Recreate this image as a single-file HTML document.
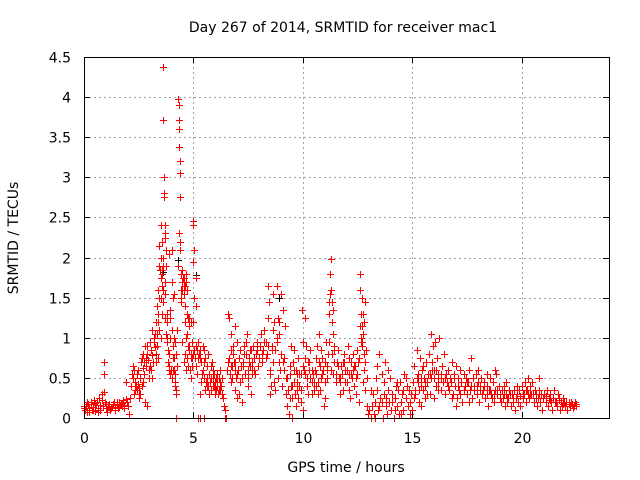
<!DOCTYPE html>
<html><head><meta charset="utf-8">
<style>
html,body{margin:0;padding:0;background:#fff;}
svg{display:block;font-family:"DejaVu Sans","Liberation Sans",sans-serif;}
</style></head>
<body>
<svg id="chart" width="640" height="480" viewBox="0 0 640 480">
<rect x="0" y="0" width="640" height="480" fill="#fff"/>
<text x="343" y="32" font-size="14" text-anchor="middle" fill="#000">Day 267 of 2014, SRMTID for receiver mac1</text>
<text x="346" y="472" font-size="14" text-anchor="middle" fill="#000">GPS time / hours</text>
<text x="18" y="238" font-size="14" text-anchor="middle" fill="#000" transform="rotate(-90 18 238)">SRMTID / TECUs</text>
<g id="grid"></g><g id="marks"></g><g id="axes"></g>
</svg>
<script>
const xTicks=[0,5,10,15,20];
const yTicks=[0,0.5,1,1.5,2,2.5,3,3.5,4,4.5];
const yTickLabels=["0","0.5","1","1.5","2","2.5","3","3.5","4","4.5"];
const hoursA=[0.0,0.05,0.1,0.15,0.2,0.25,0.3,0.35,0.4,0.45,0.5,0.55,0.6,0.65,0.7,0.75,0.8,0.85,0.9,0.9,0.95,1.0,1.05,1.1,1.15,1.2,1.3,1.35,1.4,1.5,1.55,1.6,1.7,1.75,1.8,1.85,1.9,1.95,2.0,2.05,0.02,0.12,0.22,0.32,0.42,0.52,0.62,0.72,0.82,0.92,1.02,1.12,1.22,1.32,1.42,1.52,1.62,1.72,1.82,1.92];
const tecuA=[0.12,0.1,0.15,0.08,0.18,0.12,0.2,0.1,0.14,0.22,0.09,0.16,0.2,0.12,0.25,0.1,0.3,0.15,0.7,0.55,0.2,0.12,0.08,0.15,0.18,0.1,0.14,0.2,0.12,0.16,0.13,0.2,0.18,0.15,0.22,0.12,0.45,0.2,0.15,0.05,0.15,0.2,0.07,0.17,0.1,0.19,0.08,0.16,0.22,0.33,0.18,0.14,0.12,0.17,0.1,0.2,0.14,0.19,0.16,0.24];
const hoursB=[2.1,2.15,2.2,2.25,2.3,2.35,2.4,2.45,2.5,2.55,2.6,2.65,2.7,2.75,2.8,2.85,2.9,2.95,3.0,3.05,3.1,3.15,3.2,3.25,3.3,2.3,2.5,2.7,2.9,3.1];
const tecuB=[0.25,0.4,0.55,0.65,0.3,0.45,0.35,0.6,0.3,0.5,0.7,0.4,0.8,0.55,0.2,0.75,0.9,0.6,0.65,0.85,1.1,0.7,0.95,1.05,0.8,0.6,0.25,0.45,0.15,0.5];
const hoursC=[3.3,3.35,3.35,3.4,3.4,3.45,3.45,3.5,3.5,3.5,3.55,3.55,3.55,3.6,3.6,3.6,3.6,3.65,3.65,3.65,3.7,3.7,3.7,3.75,3.75,3.75,3.8,3.8,3.8,3.4,3.5,3.6,3.7,3.45,3.55];
const tecuC=[1.2,0.9,1.4,1.6,1.3,1.9,1.1,2.4,1.75,1.5,1.8,2.2,1.3,4.37,3.72,2.0,1.6,3.0,2.8,2.75,2.4,2.25,1.7,2.1,1.9,1.05,1.0,1.3,0.95,0.75,1.0,1.45,1.25,2.15,1.85];
const hoursD=[3.85,3.9,3.9,3.95,3.95,4.0,4.0,4.05,4.05,4.1,4.1,4.15,4.15,4.2,4.2,4.25,4.25,3.9,4.0,4.1,4.2,3.95,4.05,4.15,4.2];
const tecuD=[0.7,2.05,0.6,1.35,0.55,2.1,1.1,0.9,0.6,1.55,1.0,0.55,0.45,0.8,0.35,0.65,1.1,0.8,1.7,0.75,0.0,1.0,1.5,0.4,0.3];
const hoursE=[4.3,4.32,4.34,4.35,4.36,4.37,4.38,4.38,4.4,4.4,4.45,4.45,4.5,4.5,4.55,4.55,4.6,4.6,4.65,4.65,4.7,4.7,4.75,4.75,4.8,4.8,4.3,4.35,4.45,4.5,4.55,4.6,4.65,4.7,4.75];
const tecuE=[3.98,3.9,3.72,3.6,3.38,3.2,3.05,2.75,2.2,2.1,1.8,1.45,1.85,1.6,1.65,0.7,1.2,0.8,1.0,0.6,1.3,0.75,1.25,0.9,1.15,0.85,1.9,2.3,1.5,0.95,1.75,1.4,1.7,1.05,0.65];
const hoursF=[4.85,4.9,4.9,4.95,5.0,5.0,5.0,5.05,5.05,5.1,5.1,5.15,5.15,5.2,5.2,4.9,5.0,5.1,5.1,4.95];
const tecuF=[0.6,1.2,0.5,0.75,2.45,2.4,1.95,2.1,1.5,1.4,0.9,0.85,0.55,0.95,0.0,0.8,1.2,1.75,0.65,0.95];
const hoursG=[5.25,5.3,5.3,5.35,5.4,5.45,5.5,5.5,5.55,5.6,5.65,5.7,5.75,5.8,5.85,5.9,5.95,6.0,6.05,6.1,6.15,6.2,6.25,6.3,6.35,6.4,6.45,6.5,5.3,5.5,5.7,5.9,6.1,6.3,6.45,5.35,5.6,5.8,6.0,6.2];
const tecuG=[0.8,0.3,0.0,0.7,0.55,0.9,0.0,0.5,0.35,0.65,0.8,0.55,0.45,0.5,0.7,0.4,0.55,0.3,0.5,0.45,0.35,0.6,0.4,0.3,0.25,0.15,0.0,0.0,0.75,0.85,0.3,0.6,0.55,0.5,0.1,0.45,0.4,0.65,0.35,0.45];
const hoursH=[6.55,6.6,6.6,6.65,6.7,6.7,6.75,6.8,6.85,6.9,6.95,7.0,7.0,7.05,7.1,7.15,7.2,7.25,7.3,7.35,7.4,7.45,7.5,7.55,7.6,7.65,7.7,7.75,7.8,7.85,7.9,7.95,8.0,6.7,6.9,7.1,7.3,7.5,7.7,7.9];
const tecuH=[0.6,0.7,1.3,1.25,0.45,0.85,0.65,0.9,0.7,0.35,0.5,0.95,0.25,0.6,0.75,0.45,0.2,0.65,0.8,0.55,0.95,1.05,0.5,0.7,0.85,0.3,0.6,0.75,0.55,0.8,0.95,0.65,0.75,1.05,1.15,0.3,0.9,0.4,0.55,0.85];
const hoursI=[8.05,8.1,8.15,8.2,8.25,8.3,8.35,8.4,8.45,8.5,8.55,8.6,8.65,8.7,8.75,8.8,8.85,8.9,8.95,9.0,9.05,9.1,9.15,9.2,8.4,8.5,8.6,8.7,8.8,8.9,9.0,9.1,8.65,8.85,8.3];
const tecuI=[0.9,1.05,0.7,0.85,1.1,0.95,0.8,1.65,1.45,0.3,0.4,0.85,1.55,1.2,0.35,1.65,1.25,1.05,0.6,1.55,0.4,1.35,0.75,1.15,1.25,0.6,0.9,0.45,1.0,1.2,0.8,0.7,1.1,0.5,0.75];
const hoursJ=[9.25,9.3,9.35,9.4,9.45,9.5,9.55,9.6,9.65,9.7,9.75,9.8,9.85,9.9,9.95,10.0,10.05,10.1,10.15,10.2,10.25,10.3,10.35,10.4,10.45,10.5,9.3,9.4,9.5,9.6,9.7,9.8,9.9,10.0,10.1,10.2,10.3,10.4,9.45,9.75];
const tecuJ=[0.3,0.15,0.05,0.65,0.4,0.25,0.7,0.85,0.3,0.15,0.55,0.75,0.4,0.2,1.35,0.1,0.6,1.25,0.9,0.5,0.3,0.7,0.85,0.45,0.55,0.35,0.5,0.25,0.0,0.45,0.6,0.25,0.55,0.95,0.75,0.4,0.6,0.3,0.9,0.35];
const hoursK=[10.55,10.6,10.65,10.7,10.75,10.8,10.85,10.9,10.95,11.0,11.05,11.1,11.15,11.2,11.2,11.25,11.25,11.3,11.3,11.3,11.35,11.35,11.4,11.4,11.45,11.5,10.6,10.7,10.8,10.9,11.0,11.1,11.2,11.4,11.45];
const tecuK=[0.6,0.75,0.9,0.45,1.05,0.35,0.85,0.55,0.15,0.7,0.95,0.5,0.8,1.45,1.3,1.8,1.55,1.98,1.6,0.6,1.45,0.8,1.35,1.05,0.7,0.45,0.4,0.3,0.65,0.75,0.25,0.6,0.95,0.55,0.85];
const hoursL=[11.55,11.6,11.65,11.7,11.75,11.8,11.85,11.9,11.95,12.0,12.05,12.1,12.15,12.2,12.25,12.3,12.35,12.4,12.45,12.5,12.55,12.6,12.6,12.65,12.65,12.7,12.7,12.75,12.75,12.8,12.8,12.85,12.85,12.9,12.95,11.7,11.9,12.1,12.3,12.5,12.7,12.85,12.55,12.65,12.75];
const tecuL=[0.7,0.85,0.5,0.3,0.65,0.55,0.35,0.8,0.45,0.6,0.9,0.55,0.25,0.7,0.5,0.8,0.4,0.65,0.3,0.55,0.75,1.8,1.6,1.3,1.0,1.15,0.9,1.05,0.45,1.2,0.6,1.45,0.35,0.85,0.15,0.45,0.7,0.35,0.6,0.85,1.5,0.7,0.2,0.95,1.3];
const hoursM=[13.0,13.05,13.1,13.15,13.2,13.25,13.3,13.35,13.4,13.45,13.5,13.55,13.6,13.65,13.7,13.75,13.8,13.85,13.9,13.95,14.0,14.05,14.1,14.15,14.2,14.25,14.3,14.35,14.4,14.45,14.5,14.55,14.6,14.65,14.7,14.75,14.8,14.85,14.9,14.95,13.1,13.3,13.5,13.7,13.9,14.1,14.3,14.5,14.7,14.9,13.4,13.8,14.2,14.6,13.6];
const tecuM=[0.05,0.1,0.0,0.15,0.3,0.05,0.2,0.5,0.35,0.1,0.8,0.25,0.55,0.0,0.3,0.7,0.15,0.05,0.35,0.2,0.5,0.1,0.3,0.0,0.25,0.4,0.15,0.35,0.05,0.45,0.2,0.3,0.1,0.55,0.25,0.4,0.15,0.35,0.05,0.3,0.35,0.0,0.15,0.45,0.6,0.2,0.45,0.05,0.5,0.2,0.65,0.25,0.1,0.35,0.2];
const hoursN=[15.0,15.05,15.1,15.15,15.2,15.25,15.3,15.35,15.4,15.45,15.5,15.55,15.6,15.65,15.7,15.75,15.8,15.85,15.9,15.95,16.0,16.05,16.1,16.15,16.2,16.25,16.3,16.35,16.4,16.45,16.5,16.55,15.1,15.2,15.3,15.4,15.5,15.6,15.7,15.8,15.9,16.0,16.1,16.2,16.3];
const tecuN=[0.1,0.45,0.65,0.3,0.85,0.55,0.2,0.75,0.4,0.6,0.35,0.5,0.25,0.7,0.45,0.8,0.3,1.05,0.6,0.9,0.5,0.95,0.4,0.75,0.55,1.0,0.35,0.65,0.45,0.8,0.3,0.55,0.25,0.5,0.35,0.15,0.65,0.45,0.3,0.55,0.7,0.25,0.6,0.35,0.5];
const hoursO=[16.6,16.65,16.7,16.75,16.8,16.85,16.9,16.95,17.0,17.05,17.1,17.15,17.2,17.25,17.3,17.35,17.4,17.45,17.5,17.55,17.6,17.65,17.7,17.75,17.8,17.85,17.9,17.95,18.0,18.05,18.1,18.15,18.2,18.25,18.3,18.35,18.4,18.45,18.5,18.55,18.6,18.65,18.7,18.75,18.8,18.85,18.9,18.95,16.8,17.2,17.6,18.0,18.4,18.8,17.0];
const tecuO=[0.45,0.6,0.35,0.5,0.7,0.3,0.55,0.4,0.65,0.25,0.5,0.35,0.6,0.45,0.2,0.55,0.4,0.5,0.3,0.45,0.6,0.35,0.75,0.25,0.5,0.4,0.55,0.3,0.45,0.2,0.4,0.5,0.3,0.35,0.45,0.25,0.4,0.15,0.35,0.5,0.3,0.25,0.45,0.2,0.35,0.55,0.3,0.4,0.25,0.3,0.2,0.6,0.55,0.6,0.15];
const hoursP=[19.0,19.05,19.1,19.15,19.2,19.25,19.3,19.35,19.4,19.45,19.5,19.55,19.6,19.65,19.7,19.75,19.8,19.85,19.9,19.95,20.0,20.05,20.1,20.15,20.2,20.25,20.3,20.35,20.4,20.45,20.5,20.55,20.6,20.65,20.7,20.75,20.8,20.85,20.9,20.95,21.0,21.05,21.1,21.15,21.2,21.25,21.3,21.35,21.4,21.45,21.5,21.55,21.6,21.65,21.7,21.75,21.8,21.85,21.9,21.95,22.0,22.05,22.1,22.15,22.2,22.25,22.3,22.35,22.4,22.45,22.5,19.3,19.8,20.3,20.8];
const tecuP=[0.3,0.2,0.35,0.25,0.4,0.15,0.3,0.2,0.25,0.35,0.15,0.3,0.2,0.35,0.1,0.25,0.3,0.2,0.35,0.15,0.4,0.25,0.3,0.45,0.2,0.35,0.5,0.25,0.4,0.3,0.45,0.2,0.35,0.3,0.15,0.25,0.35,0.2,0.3,0.1,0.25,0.3,0.2,0.35,0.15,0.25,0.3,0.2,0.1,0.25,0.35,0.2,0.15,0.3,0.25,0.1,0.2,0.15,0.25,0.2,0.15,0.2,0.1,0.2,0.15,0.2,0.18,0.12,0.15,0.2,0.15,0.45,0.4,0.3,0.5];
const hoursQ=[2.22,2.28,2.33,2.38,2.43,2.48,2.53,2.58,2.63,2.68,2.73,2.78,2.83,2.88,2.93,2.98,3.03,3.08,3.13,3.18,3.23,3.28,3.33,3.38];
const tecuQ=[0.5,0.6,0.35,0.4,0.55,0.42,0.38,0.3,0.75,0.62,0.7,0.9,0.65,0.8,0.72,0.5,0.95,0.6,0.78,1.0,0.88,0.7,1.05,1.2];
const hoursR=[3.42,3.48,3.52,3.58,3.62,3.68,3.72,3.78,3.82,3.88,3.92,3.98,4.02,4.08,4.12,4.18,4.42,4.48,4.52,4.58,4.62,4.68,4.72,4.78,4.82,4.88,4.92,4.98,5.02,5.08];
const tecuR=[1.5,1.85,2.0,1.65,1.9,2.3,1.55,1.2,0.85,0.65,1.25,0.6,0.5,0.75,0.6,0.95,1.6,1.7,1.75,1.55,1.65,1.8,1.6,1.25,0.9,0.75,0.65,0.8,0.85,0.75];
const hoursS=[5.22,5.28,5.42,5.48,5.52,5.58,5.62,5.68,5.72,5.78,5.82,5.88,5.92,5.98,6.02,6.08,6.12,6.18,6.22,6.28,6.62,6.68,6.72,6.78,6.82,6.88,6.92,6.98,7.12,7.18,7.22,7.28,7.42,7.48,7.52,7.58,7.62,7.68,7.72,7.78];
const tecuS=[0.75,0.85,0.6,0.7,0.75,0.45,0.5,0.4,0.55,0.45,0.35,0.5,0.4,0.45,0.35,0.4,0.3,0.5,0.35,0.4,0.75,0.55,0.65,0.5,0.8,0.6,0.7,0.55,0.85,0.65,0.5,0.7,0.8,0.6,0.75,0.65,0.85,0.7,0.9,0.6];
const hoursT=[8.12,8.22,8.32,8.42,8.52,8.62,8.72,8.82,8.92,9.02,9.12,9.22,9.32,9.42,9.52,9.62,9.72,9.82,9.92,10.02,10.12,10.22,10.32,10.42,10.52,10.62,10.72,10.82,10.92,11.02,11.12,11.32,11.42,11.52,11.62,11.72,11.82,11.92,12.02,12.12,12.22,12.32,12.42,12.52,12.62,12.72,12.82,12.92];
const tecuT=[0.8,0.95,0.75,0.9,0.55,0.7,0.85,0.95,0.7,0.8,0.6,0.5,0.35,0.55,0.4,0.6,0.45,0.55,0.35,0.65,0.55,0.7,0.5,0.6,0.45,0.55,0.7,0.5,0.6,0.45,0.65,1.2,0.9,0.55,0.65,0.5,0.7,0.6,0.45,0.75,0.55,0.65,0.5,0.7,1.15,0.95,0.8,0.5];
const hoursU=[15.12,15.28,15.42,15.58,15.72,15.88,16.02,16.18,16.32,16.48,16.62,16.78,16.92,17.08,17.22,17.38,17.52,17.68,17.82,17.98,18.12,18.28,18.42,18.58,18.72,18.88,19.02,19.18,19.32,19.48,19.62,19.78,19.92,20.08,20.22,20.38,20.52,20.68,20.82,20.98,21.12,21.28,21.42,21.58,21.72,21.88,22.02,22.18,22.32,22.48];
const tecuU=[0.35,0.45,0.5,0.4,0.55,0.5,0.6,0.45,0.55,0.5,0.4,0.45,0.5,0.4,0.45,0.35,0.45,0.4,0.35,0.4,0.35,0.4,0.3,0.35,0.3,0.35,0.25,0.3,0.25,0.3,0.25,0.3,0.28,0.3,0.35,0.3,0.3,0.25,0.3,0.25,0.28,0.22,0.25,0.2,0.22,0.18,0.2,0.17,0.16,0.18];
const blackHours=[3.62,4.28,8.9,5.12];
const blackTecu=[1.82,1.97,1.5,1.78];

const NS='http://www.w3.org/2000/svg';
const L=84,R=609,T=57,B=418,XMAX=24,YMAX=4.5;
function xs(v){return L+(R-L)*v/XMAX;}
function ys(v){return B-(B-T)*v/YMAX;}
function mk(tag,attrs,parent){const e=document.createElementNS(NS,tag);for(const k in attrs)e.setAttribute(k,attrs[k]);parent.appendChild(e);return e;}
const grid=document.getElementById('grid'),marks=document.getElementById('marks'),axes=document.getElementById('axes');
yTicks.forEach((v,i)=>{
  const y=Math.round(ys(v))+0.5;
  if(i>0&&i<yTicks.length-1){const g=mk('line',{x1:L,x2:R,y1:y,y2:y,stroke:'#a0a0a0','stroke-dasharray':'2,3'},grid);
  
  }
  mk('line',{x1:L,x2:L+6,y1:y,y2:y,stroke:'#000'},axes);
  mk('line',{x1:R,x2:R-6,y1:y,y2:y,stroke:'#000'},axes);
  const t=mk('text',{x:71,y:y+5,'font-size':14,'text-anchor':'end',fill:'#000'},axes);
  t.textContent=yTickLabels[i];
  
  
});
xTicks.forEach((v,i)=>{
  const x=Math.round(xs(v))+0.5;
  if(i>0){const g=mk('line',{x1:x,x2:x,y1:T,y2:B,stroke:'#a0a0a0','stroke-dasharray':'2,3'},grid);
  
  }
  mk('line',{x1:x,x2:x,y1:B,y2:B-6,stroke:'#000'},axes);
  mk('line',{x1:x,x2:x,y1:T,y2:T+6,stroke:'#000'},axes);
  const t=mk('text',{x:x,y:443,'font-size':14,'text-anchor':'middle',fill:'#000'},axes);
  t.textContent=String(v);
  
  
});
const frame=mk('rect',{x:L+0.5,y:T+0.5,width:R-L,height:B-T,fill:'none',stroke:'#000'},axes);


function plus(h,v,color,name){
  const x=Math.round(xs(h))+0.5,y=Math.round(ys(v))+0.5;
  const p=mk('path',{d:`M${x-3.5} ${y}H${x+3.5}M${x} ${y-3.5}V${y+3.5}`,stroke:color,'stroke-width':1,fill:'none'},marks);
  
  
}
const seriesH=[hoursA,hoursB,hoursC,hoursD,hoursE,hoursF,hoursG,hoursH,hoursI,hoursJ,hoursK,hoursL,hoursM,hoursN,hoursO,hoursP,hoursQ,hoursR,hoursS,hoursT,hoursU];
const seriesV=[tecuA,tecuB,tecuC,tecuD,tecuE,tecuF,tecuG,tecuH,tecuI,tecuJ,tecuK,tecuL,tecuM,tecuN,tecuO,tecuP,tecuQ,tecuR,tecuS,tecuT,tecuU];
for(let i=0;i<blackHours.length;i++)plus(blackHours[i],blackTecu[i],'#000','black-point');
seriesH.forEach((hs,s)=>{const vs=seriesV[s];const n=Math.min(hs.length,vs.length);for(let i=0;i<n;i++)plus(hs[i],vs[i],'#ff0000','srmtid-point');});
</script>
</body></html>
